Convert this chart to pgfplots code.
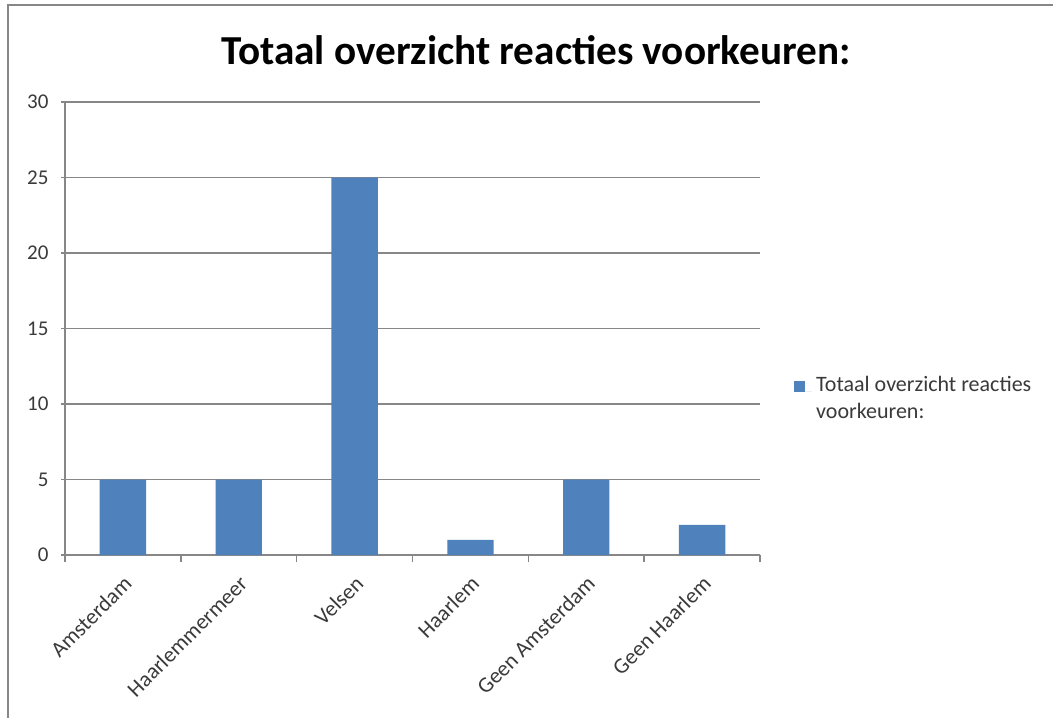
\documentclass[border=0pt]{standalone}
\usepackage{fontspec}
\setmainfont{Carlito}
\usepackage{pgfplots}
\pgfplotsset{compat=1.18}
\definecolor{barblue}{HTML}{4F81BD}
\definecolor{gridgray}{HTML}{878787}
\definecolor{txt}{HTML}{3A3A3A}
\begin{document}
\begin{tikzpicture}
\path[use as bounding box] (0,0) rectangle (526.5pt,358.5pt);
\fill[white] (0,0) rectangle (526.5pt,358.5pt);
\draw[gridgray, line width=0.9pt] (4pt,-2pt) -- (4pt,356pt) -- (530pt,356pt);
\node[font=\fontsize{20.6}{24}\selectfont\bfseries] at (268pt,333.5pt) {Totaal overzicht reacties voorkeuren:};
\begin{axis}[
  at={(32.5pt,81pt)}, anchor=south west,
  scale only axis, width=347.5pt, height=226.5pt,
  xmin=-0.5, xmax=5.5, ymin=0, ymax=30,
  ytick={0,5,...,30},
  xtick={0,...,5},
  xticklabels={Amsterdam,Haarlemmermeer,Velsen,Haarlem,Geen Amsterdam,Geen Haarlem},
  minor xtick={-0.5,0.5,...,5.5},
  major x tick style={draw=none},
  tick align=outside,
  major tick length=3.5pt, minor tick length=3.5pt,
  axis lines=left,
  axis line style={gridgray, line width=0.75pt, -},
  tick style={gridgray, line width=0.75pt},
  ymajorgrids, major grid style={gridgray, line width=0.75pt},
  /pgf/number format/assume math mode=true,
  xticklabel style={rotate=45, anchor=north east, font=\fontsize{11}{13}\selectfont, text=txt, inner sep=1pt, yshift=-3pt, xshift=-3.5pt},
  yticklabel style={font=\fontsize{10.5}{12}\selectfont, text=txt, xshift=-3pt},
  ybar, bar width=0.4,
  clip=false,
  legend style={at={(1.04,0.345)}, anchor=west, draw=none, fill=none,
    font=\fontsize{11}{13.8}\selectfont, text=txt, cells={align=left}},
  legend image code/.code={\fill[barblue] (0pt,3.6pt) rectangle (5.5pt,9.1pt); \path (0pt,3.6pt) -- (9pt,3.6pt);},
]
\addplot[fill=barblue, draw=none] coordinates {(0,5) (1,5) (2,25) (3,1) (4,5) (5,2)};
\addlegendentry{Totaal overzicht reacties\\voorkeuren:}
\end{axis}
\end{tikzpicture}
\end{document}
